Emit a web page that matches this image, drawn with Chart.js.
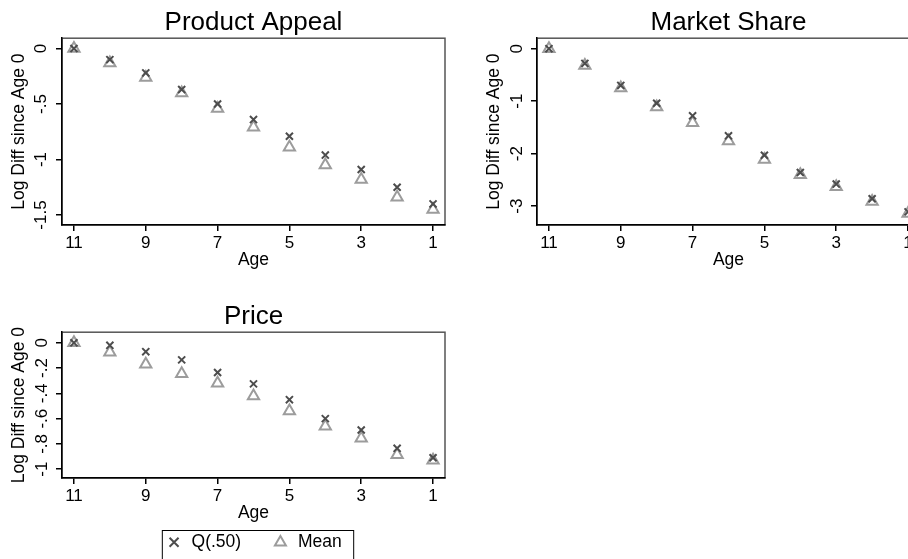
<!DOCTYPE html>
<html>
<head>
<meta charset="utf-8">
<script src="https://cdn.jsdelivr.net/npm/chart.js@4.4.1/dist/chart.umd.min.js"></script>
<style>
  html, body { margin: 0; padding: 0; background: #fff; overflow: hidden; width: 908px; height: 559px; }
  canvas { position: absolute; }
  #pa { left: 0; top: 0; }
  #ms { left: 475px; top: 0; }
  #price { left: 0; top: 294px; }
</style>
</head>
<body>
<canvas id="pa" width="460" height="280"></canvas>
<canvas id="ms" width="460" height="280"></canvas>
<canvas id="price" width="460" height="267"></canvas>
<script>
const ages = [11, 10, 9, 8, 7, 6, 5, 4, 3, 2, 1];
const ageTicks = [11, 9, 7, 5, 3, 1];

const appealQ50 = [0, -0.10, -0.22, -0.37, -0.50, -0.64, -0.79, -0.96, -1.09, -1.25, -1.40];
const appealMean = [0, -0.13, -0.26, -0.40, -0.54, -0.71, -0.89, -1.05, -1.18, -1.34, -1.45];
const appealTicks = [0, -0.5, -1, -1.5];
const appealTickLabels = ['0', '-.5', '-1', '-1.5'];

const shareQ50 = [0, -0.28, -0.70, -1.04, -1.28, -1.66, -2.03, -2.36, -2.58, -2.86, -3.11];
const shareMean = [0, -0.32, -0.75, -1.11, -1.41, -1.76, -2.11, -2.40, -2.63, -2.91, -3.14];
const shareTicks = [0, -1, -2, -3];
const shareTickLabels = ['0', '-1', '-2', '-3'];

const priceQ50 = [0, -0.02, -0.07, -0.135, -0.235, -0.325, -0.45, -0.60, -0.69, -0.835, -0.91];
const priceMean = [0, -0.075, -0.17, -0.245, -0.32, -0.42, -0.54, -0.66, -0.755, -0.885, -0.93];
const priceTicks = [0, -0.2, -0.4, -0.6, -0.8, -1];
const priceTickLabels = ['0', '-.2', '-.4', '-.6', '-.8', '-1'];

Chart.defaults.font.family = '"Liberation Sans", Arial, Helvetica, sans-serif';
Chart.defaults.color = '#000';

// plot region outline + box round the legend
const frame = {
    id: 'frame',
    beforeDraw(chart) {
        const { ctx, chartArea: a } = chart;
        ctx.save();
        ctx.strokeStyle = '#555';
        ctx.lineWidth = 1.5;
        ctx.strokeRect(a.left, a.top, a.right - a.left, a.bottom - a.top);
        ctx.restore();
    },
    afterDraw(chart) {
        const lg = chart.legend;
        if (!lg || !lg.options.display) return;
        const hb = lg.legendHitBoxes;
        const last = hb[hb.length - 1];
        const l = hb[0].left - 3;
        const t = hb[0].top - 3;
        const r = last.left + last.width + 12;
        const ctx = chart.ctx;
        ctx.save();
        ctx.strokeStyle = '#000';
        ctx.lineWidth = 1;
        ctx.strokeRect(l, t, r - l, 60);
        ctx.restore();
    }
};

function points(ys) {
    return ages.map((a, i) => ({ x: a, y: ys[i] }));
}

function createPanel(canvasId, title, q50, mean, yMin, yMax, yTicks, yLabels, o) {
    const ctx = document.getElementById(canvasId);
    return new Chart(ctx, {
        type: 'scatter',
        data: {
            datasets: [
                {
                    label: 'Q(.50)',
                    data: points(q50),
                    pointStyle: 'crossRot',
                    pointRadius: 5,
                    pointBorderWidth: 2,
                    pointBorderColor: '#4d4d4d',
                    pointBackgroundColor: '#4d4d4d'
                },
                {
                    label: 'Mean',
                    data: points(mean),
                    pointStyle: 'triangle',
                    pointRadius: 6.5,
                    pointBorderWidth: 2,
                    pointBorderColor: '#9c9c9c',
                    pointBackgroundColor: 'rgba(0,0,0,0)'
                }
            ]
        },
        options: {
            responsive: false,
            animation: false,
            layout: { padding: { left: 0, right: 15, top: 0, bottom: 0 } },
            plugins: {
                title: {
                    display: true,
                    text: title,
                    fullSize: false,
                    font: { size: 26, weight: 'normal' },
                    padding: { top: 7, bottom: 0 }
                },
                legend: {
                    display: o.legend,
                    position: 'bottom',
                    fullSize: false,
                    labels: {
                        usePointStyle: true,
                        boxWidth: 18,
                        boxHeight: 9,
                        padding: 30.5,
                        font: { size: 17.5 }
                    }
                },
                tooltip: { enabled: false }
            },
            scales: {
                x: {
                    type: 'linear',
                    reverse: true,
                    min: 0.667,
                    max: 11.333,
                    afterBuildTicks: s => { s.ticks = ageTicks.map(v => ({ value: v })); },
                    afterFit: s => { s.height = o.xHeight; },
                    ticks: { font: { size: 17 }, padding: 2, maxRotation: 0, autoSkip: false },
                    grid: { drawOnChartArea: false, tickLength: 6, color: '#000', lineWidth: 1.5 },
                    border: { color: '#000', width: 1.5 },
                    title: {
                        display: true,
                        text: 'Age',
                        font: { size: 17.5 },
                        padding: { top: 0, bottom: o.xTitlePad }
                    }
                },
                y: {
                    min: yMin,
                    max: yMax,
                    afterBuildTicks: s => { s.ticks = yTicks.map(v => ({ value: v })); },
                    afterFit: s => { s.width = 62; },
                    ticks: {
                        font: { size: 17 },
                        padding: o.yPad,
                        minRotation: 90,
                        maxRotation: 90,
                        crossAlign: 'center',
                        callback: v => yLabels[yTicks.indexOf(v)]
                    },
                    grid: { drawOnChartArea: false, tickLength: 6, color: '#000', lineWidth: 1.5 },
                    border: { color: '#000', width: 1.5 },
                    title: {
                        display: true,
                        text: 'Log Diff since Age 0',
                        font: { size: 17.5 },
                        padding: { top: 8.5, bottom: 0 }
                    }
                }
            }
        },
        plugins: [frame]
    });
}

createPanel('pa', 'Product Appeal', appealQ50, appealMean, -1.59, 0.093,
    appealTicks, appealTickLabels, { legend: false, xHeight: 55, xTitlePad: 9, yPad: 0 });
createPanel('ms', 'Market Share', shareQ50, shareMean, -3.36, 0.2,
    shareTicks, shareTickLabels, { legend: false, xHeight: 55, xTitlePad: 9, yPad: 6.4 });
createPanel('price', 'Price', priceQ50, priceMean, -1.07, 0.084,
    priceTicks, priceTickLabels, { legend: true, xHeight: 25, xTitlePad: -21, yPad: 4.1 });
</script>
</body>
</html>
